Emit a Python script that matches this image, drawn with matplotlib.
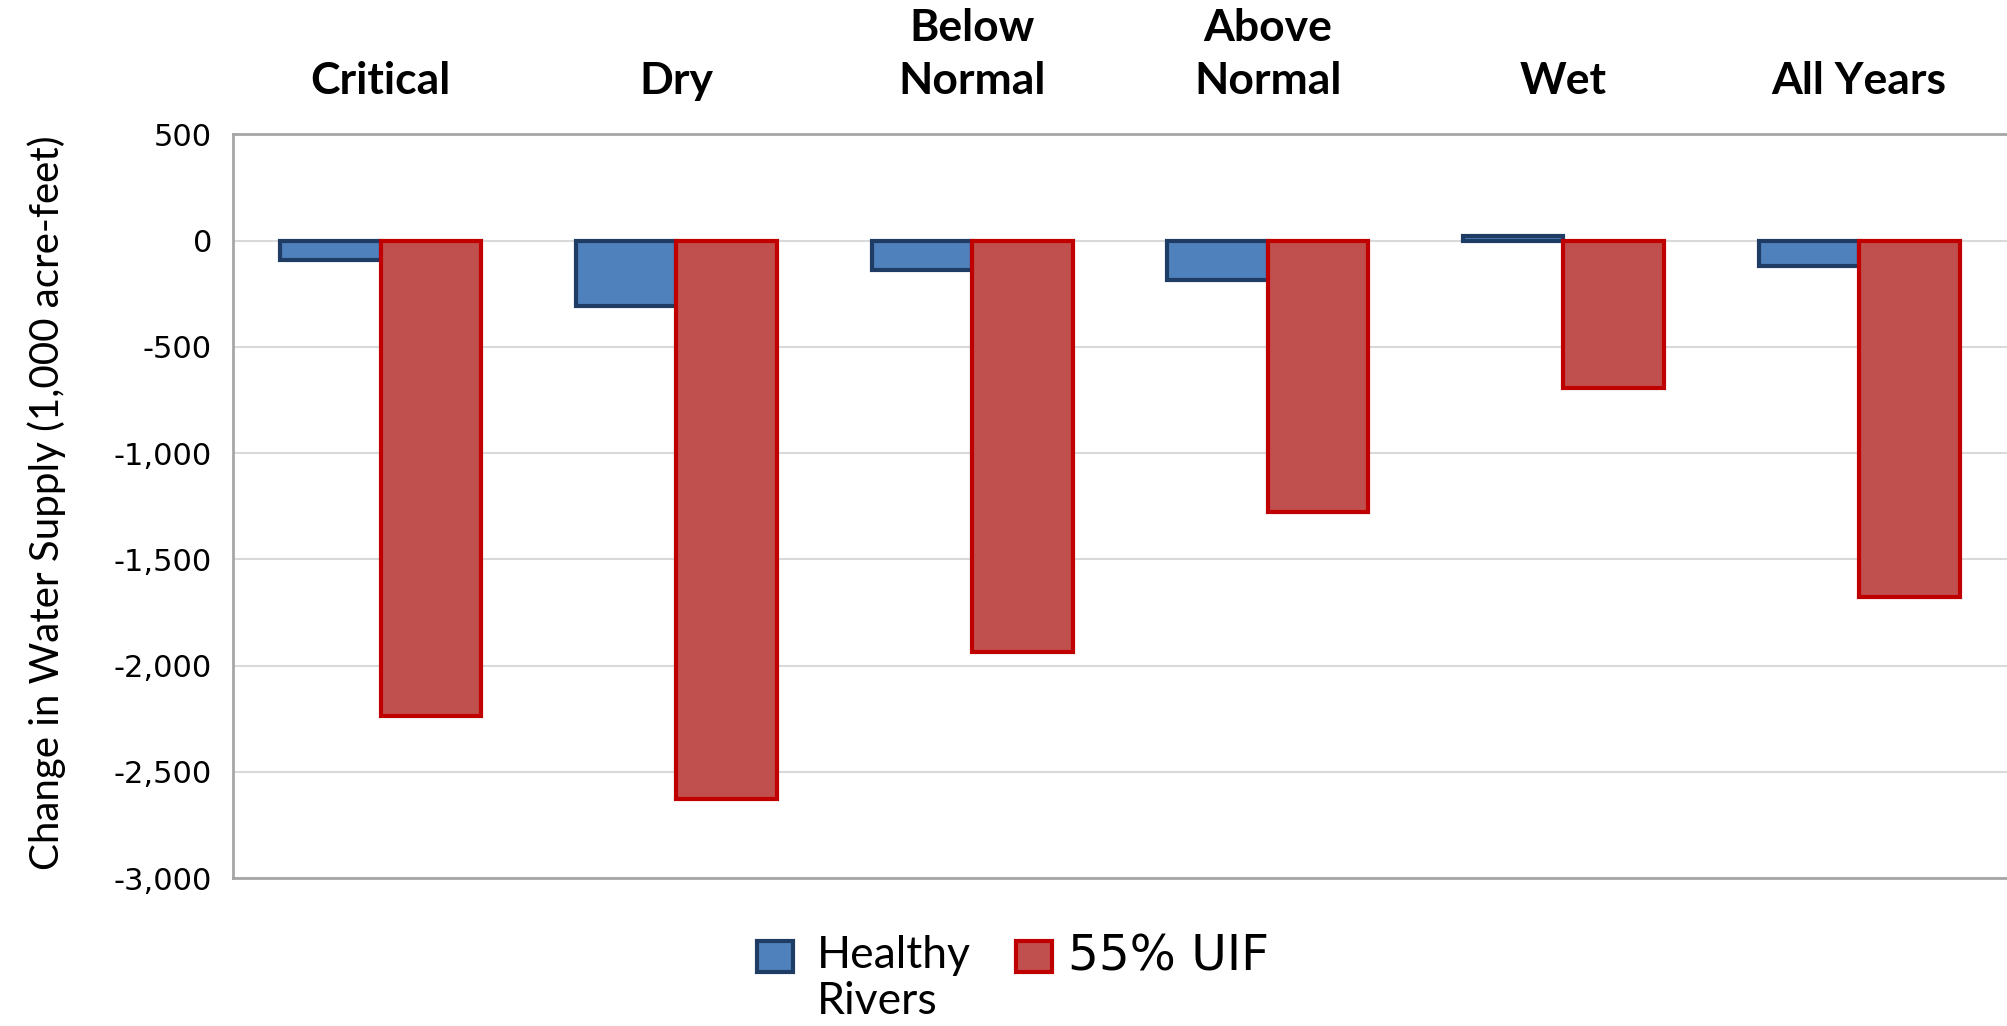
import numpy as np
import matplotlib
matplotlib.use('Agg')
import matplotlib.pyplot as plt
from matplotlib.patches import Rectangle

categories = ['Critical', 'Dry', 'Below\nNormal', 'Above\nNormal', 'Wet', 'All Years']
healthy_rivers = [-90, -307, -139, -187, 20, -120]
uif_55 = [-2235, -2627, -1934, -1277, -693, -1675]
yticks = [500, 0, -500, -1000, -1500, -2000, -2500, -3000]

blue, blue_edge = '#4F81BD', '#1F3C64'
red, red_edge = '#C0504D', '#C00000'

fig = plt.figure(figsize=(20.07, 10.26), dpi=100)
ax = fig.add_axes([0.116, 0.144, 0.884, 0.725])

x = np.arange(len(categories))
w = 0.34
ax.bar(x - w / 2, healthy_rivers, w, color=blue, edgecolor=blue_edge, linewidth=3, zorder=3)
ax.bar(x + w / 2, uif_55, w, color=red, edgecolor=red_edge, linewidth=3, zorder=3)

ax.set_xlim(-0.5, len(categories) - 0.5)
ax.set_ylim(-3000, 500)
ax.set_yticks(yticks)
ax.set_yticklabels(['{:,}'.format(v) for v in yticks], fontsize=22, family='DejaVu Sans')
ax.yaxis.grid(True, color='#D9D9D9', linewidth=1.5, zorder=0)
ax.tick_params(axis='y', length=0, pad=15)

ax.xaxis.tick_top()
ax.set_xticks(x)
ax.set_xticklabels(categories, fontsize=32, fontweight='bold', family='Lato', linespacing=1.4)
ax.tick_params(axis='x', length=0, pad=24)

ax.spines['right'].set_visible(False)
for s in ['left', 'top', 'bottom']:
    ax.spines[s].set_color('#A6A6A6')
    ax.spines[s].set_linewidth(2)

ax.set_ylabel('Change in Water Supply (1,000 acre-feet)', fontsize=29, family='Lato')
ax.yaxis.set_label_coords(-0.094, 0.505)

# legend drawn by hand so the two-line label hangs below its swatch
fig.patches.append(Rectangle((0.377, 0.053), 0.018, 0.030, transform=fig.transFigure,
                             facecolor=blue, edgecolor=blue_edge, linewidth=3))
fig.text(0.407, 0.089, 'Healthy\nRivers', fontsize=32, family='Lato', va='top', ha='left',
         linespacing=1.15)
fig.patches.append(Rectangle((0.506, 0.053), 0.018, 0.030, transform=fig.transFigure,
                             facecolor=red, edgecolor=red_edge, linewidth=3))
fig.text(0.532, 0.068, '55% UIF', fontsize=35, family='DejaVu Sans', va='center', ha='left')

fig.savefig('out.png', dpi=100)
